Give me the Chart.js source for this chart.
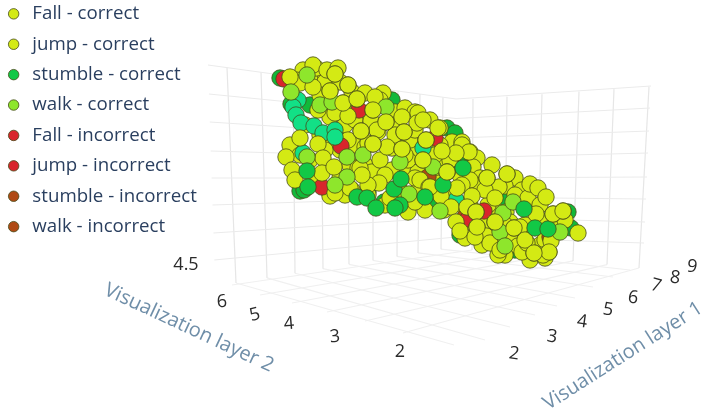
<!DOCTYPE html>
<html>
<head>
<meta charset="utf-8">
<title>Activity embedding</title>
<script src="https://cdn.jsdelivr.net/npm/chart.js@4"></script>
<style>
  html, body { margin: 0; padding: 0; background: #fff; }
  #wrap { width: 709px; height: 418px; }
</style>
</head>
<body>
<div id="wrap"><canvas id="myChart" width="709" height="418"></canvas></div>
<script>
// embedding points in view coordinates, split by class and by depth
var fallCorrect = [[316,68],[313,65],[327,70],[338,68],[300,83],[290,77],[371,121],[386,122],[402,117],[417,123],[423,120],[438,128],[462,145],[469,152],[507,174],[499,187],[530,184],[538,188]];
var jumpCorrect = [[335,74],[313,87],[348,85],[330,91],[343,103],[357,99],[335,113],[348,116],[373,110],[375,97],[377,130],[361,131],[404,132],[387,147],[402,149],[373,144],[426,140],[423,160],[300,138],[318,144],[286,157],[292,170],[323,158],[322,173],[334,167],[335,193],[360,168],[379,183],[368,185],[362,175],[350,188],[390,198],[415,178],[420,180],[429,187],[415,202],[447,172],[487,178],[485,190],[495,198],[472,196],[441,196],[430,187],[457,188],[451,207],[467,207],[456,222],[460,231],[476,212],[477,227],[486,236],[495,222],[490,243],[514,228],[518,246],[522,252],[534,253],[549,252],[551,241],[536,214],[546,197],[553,214],[563,211],[578,233],[520,227],[295,180],[475,237],[500,250],[527,243],[525,240],[543,255]];
var stumbleCorrect = [[307,171],[308,187],[357,197],[367,198],[376,208],[394,189],[401,179],[400,205],[395,208],[425,197],[443,185],[463,168],[535,228],[548,229],[524,209]];
var walkCorrect = [[307,75],[320,105],[332,102],[386,107],[291,92],[307,157],[347,157],[347,177],[335,185],[363,155],[400,162],[433,167],[440,211],[409,194],[500,232],[505,246],[503,213],[513,202],[560,232]];
var fallIncorrect = [[284,79],[341,146],[322,187],[435,138],[484,211]];
var jumpIncorrect = [[359,110],[468,219]];
var stumbleIncorrect = [[465,217]];
var walkIncorrect = [[428,177],[550,237]];

// members of the same classes further back in the cloud
var jumpBack = [[322,72],[303,70],[296,80],[310,80],[325,82],[340,82],[352,92],[365,93],[383,93],[380,100],[395,112],[405,108],[415,112],[418,113],[430,120],[440,128],[452,142],[462,142],[470,152],[477,158],[473,167],[492,165],[515,178],[505,186],[522,190],[480,178],[460,175],[440,162],[415,150],[395,125],[360,112],[345,125],[330,117],[318,110],[305,125],[297,145],[310,160],[290,145],[315,178],[340,150],[355,145],[365,147],[368,143],[378,132],[392,148],[365,165],[350,165],[340,178],[352,190],[372,172],[392,170],[408,170],[418,172],[408,160],[436,178],[444,210],[440,183],[425,210],[408,212],[385,205],[368,195],[345,195],[330,196],[470,222],[482,245],[496,235],[506,212],[515,195],[528,198],[540,205],[505,255],[512,240],[528,245],[540,245],[548,225],[558,222],[565,220],[452,195],[462,205],[475,185],[465,238],[498,255],[530,260],[545,258],[358,168],[348,140],[330,140],[320,135],[410,140],[415,130],[395,135],[440,145],[450,160],[470,180],[495,210],[485,222],[510,222],[525,225],[540,220],[545,240],[510,235],[500,243],[380,160],[385,175],[400,190],[418,190],[470,205],[488,205],[505,225],[462,185],[345,110],[320,95],[355,120],[405,155],[435,155],[300,155],[325,150]];
var tealMid = [[298,100],[293,107],[296,115],[301,123],[314,126],[323,133],[335,130],[335,137],[303,153],[423,148],[447,172],[456,200]];
var greenBack = [[280,78],[291,104],[300,191],[304,190],[447,128],[455,133],[462,165],[310,105],[392,100],[368,192],[384,202],[395,205],[435,200],[460,235],[505,200],[568,212],[571,228],[515,250],[467,168],[340,135]];
var jumpFront = [[335,74],[348,85],[330,91],[343,103],[357,99],[373,110],[386,122],[361,131],[373,144],[404,132],[402,149],[426,140],[423,160],[447,172],[507,174],[487,178],[456,153],[442,151],[476,212],[477,227],[495,222],[553,214],[563,211],[549,252],[534,253],[514,228]];

var layer1Ticks = ["2","3","4","5","6","7","8","9"];
var layer2Ticks = ["6","5","4","3","2"];
var heightTicks = ["4.5"];

// walls and floor of the plot box
var wallLevelsLeft = [65,94,122,151,178,205,233,260];
var wallLevelsMid = [99,118.5,138,158,178,197,217,237];
var wallLevelsRight = [86,108,131,153,177,199,222,243];
var leftPostsTop = [227,261,293,321,347,373,398,420,443];
var leftPostsFoot = [236,267,295,323,349,373,397,418,441];
var rightPostsTop = [473,507,542,579,614,649];
var rightPostsFoot = [472,505,538,573,607,639];
var floorAEnds = [[232,285],[260,295],[292,303],[327,312],[365,321],[403,333]];
var floorBEnds = [[454,345],[485,340],[510,327],[535,315],[557,306],[575,298],[593,287],[613,277],[630,270]];

function pts(list) {
  return list.map(function(p) { return { x: p[0], y: p[1] }; });
}

function gridLine(a, b, c, colour) {
  var d = [{ x: a[0], y: a[1] }, { x: b[0], y: b[1] }];
  if (c) d.push({ x: c[0], y: c[1] });
  return {
    type: 'line', data: d, order: 20, borderColor: colour, borderWidth: 1.2,
    pointRadius: 0, fill: false, tension: 0, inLegend: false
  };
}

var edge = 'rgba(70,75,25,0.8)';

function cloud(label, list, colour, order, inLegend) {
  return {
    label: label, data: pts(list), order: order, inLegend: !!inLegend,
    showLine: false, pointStyle: 'circle', pointRadius: 8.2, pointHoverRadius: 8.2,
    backgroundColor: colour, pointBackgroundColor: colour, borderColor: edge,
    pointBorderColor: edge, borderWidth: 1, pointBorderWidth: 1
  };
}

var yellow = '#d4ea14';
var lime = '#8ee62c';
var green = '#12c846';
var red = '#d8262c';
var brown = '#b04a14';

var datasets = [
  cloud('Fall - correct', fallCorrect, yellow, 7, true),
  cloud('jump - correct', jumpCorrect, yellow, 5, true),
  cloud('stumble - correct', stumbleCorrect, green, 4, true),
  cloud('walk - correct', walkCorrect, lime, 4.5, true),
  cloud('Fall - incorrect', fallIncorrect, red, 8, true),
  cloud('jump - incorrect', jumpIncorrect, red, 8, true),
  cloud('stumble - incorrect', stumbleIncorrect, brown, 9, true),
  cloud('walk - incorrect', walkIncorrect, brown, 9, true),
  cloud('jump - correct', jumpBack, yellow, 10),
  cloud('stumble - correct', greenBack, '#12b83a', 11),
  cloud('stumble - correct', tealMid, '#12e086', 6),
  cloud('jump - correct', jumpFront, yellow, 3)
];

wallLevelsLeft.forEach(function(y, i) {
  datasets.push(gridLine([208 + i * 0.9, y], [456, wallLevelsMid[i]], [651 - i, wallLevelsRight[i]], '#ebebeb'));
});
leftPostsTop.forEach(function(x, i) {
  var topY = 65 + 0.137 * (x - 208);
  var footY = 283 - (leftPostsFoot[i] - 236) * 0.165;
  datasets.push(gridLine([x, topY], [leftPostsFoot[i], footY], null, '#e6e6e6'));
  datasets.push(gridLine([leftPostsFoot[i], footY], floorBEnds[i], null, '#f0f0f0'));
});
rightPostsTop.forEach(function(x, i) {
  var topY = 99 - (x - 473) * 0.07;
  var footY = 250 + (rightPostsFoot[i] - 472) * 0.108;
  datasets.push(gridLine([x, topY], [rightPostsFoot[i], footY], null, '#e6e6e6'));
  datasets.push(gridLine([rightPostsFoot[i], footY], floorAEnds[i], null, '#f0f0f0'));
});

var axisText = {
  id: 'axisText',
  afterDraw: function(chart) {
    var c = chart.ctx, sx = chart.scales.x, sy = chart.scales.y;
    function put(str, x, y, deg, font, colour) {
      c.save();
      c.translate(sx.getPixelForValue(x), sy.getPixelForValue(y));
      c.rotate(deg * Math.PI / 180);
      c.font = font;
      c.fillStyle = colour;
      c.textAlign = 'center';
      c.textBaseline = 'middle';
      c.fillText(str, 0, 0);
      c.restore();
    }
    var tickFont = '18px "Open Sans"', titleFont = '20px "Open Sans"';
    var l1x = [514,552,582,608,633,656,675,692], l1y = [354,337,322,310,298,286,278,267];
    var l2x = [222,255,289,335,400], l2y = [302,315,324,337,352];
    var l1r = [8,8,8,8,8,15,8,8], l2r = [-5,-15,-5,-5,0];
    layer1Ticks.forEach(function(t, i) { put(t, l1x[i], l1y[i], l1r[i], tickFont, '#2a2a2a'); });
    layer2Ticks.forEach(function(t, i) { put(t, l2x[i], l2y[i], l2r[i], tickFont, '#2a2a2a'); });
    put(heightTicks[0], 186, 265, 0, tickFont, '#2a2a2a');
    put('Visualization layer 2', 189, 328, 25, titleFont, '#6f8ea8');
    put('Visualization layer 1', 623, 356, -32.5, titleFont, '#6f8ea8');
  }
};

// pull the legend up into the corner, its padding is tied to the row gap
var legendCorner = {
  id: 'legendCorner',
  beforeDraw: function(chart) {
    chart.legend.left = -7.4;
    chart.legend.top = -7.2;
  }
};

var ctx = document.getElementById('myChart').getContext('2d');
var chart = new Chart(ctx, {
  type: 'scatter',
  data: { datasets: datasets },
  plugins: [axisText, legendCorner],
  options: {
    responsive: false,
    animation: false,
    layout: { padding: 0, autoPadding: false },
    scales: {
      x: { type: 'linear', display: false, min: 0, max: 709 },
      y: { type: 'linear', display: false, min: 0, max: 418, reverse: true }
    },
    plugins: {
      tooltip: { enabled: false },
      legend: {
        position: 'chartArea',
        align: 'start',
        labels: {
          usePointStyle: true,
          boxHeight: 7.4,
          padding: 11.7,
          color: '#2a3f5f',
          font: { family: '"Open Sans"', size: 18.7 },
          filter: function(item, data) { return data.datasets[item.datasetIndex].inLegend; },
          sort: function(a, b) { return a.datasetIndex - b.datasetIndex; }
        }
      }
    }
  }
});
</script>
</body>
</html>
